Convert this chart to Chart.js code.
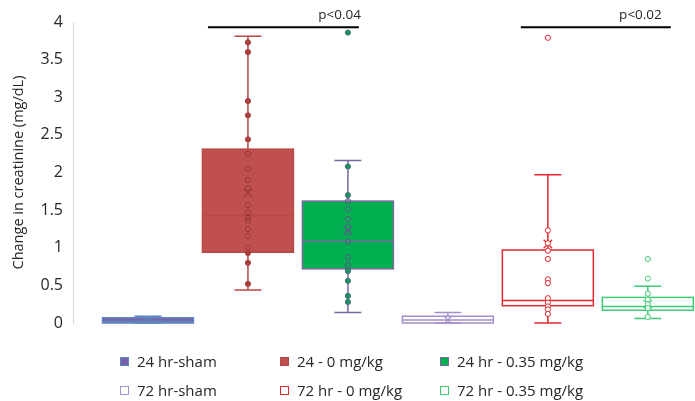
<!DOCTYPE html>
<html>
<head>
<meta charset="utf-8">
<script src="https://cdn.jsdelivr.net/npm/chart.js@4/dist/chart.umd.min.js"></script>
<style>
  body { margin: 0; background: #fff; }
  #wrap { position: relative; width: 695px; height: 401px; }
  #legend { position: absolute; left: 0; top: 0; width: 695px; height: 401px; pointer-events: none;
            font-family: "Open Sans", sans-serif; font-size: 15px; color: #262626; }
  .item { position: absolute; display: flex; align-items: center; white-space: nowrap; height: 20px; }
  .sw { width: 7px; height: 7px; margin-right: 8px; box-sizing: content-box; }
</style>
</head>
<body>
<div id="wrap">
  <canvas id="chart" width="695" height="401"></canvas>
  <div id="legend"></div>
</div>
<script>
// Grupos (categorías)
const groups = ['24 hr-sham', '24 - 0 mg/kg', '24 hr - 0.35 mg/kg', '72 hr-sham', '72 hr - 0 mg/kg', '72 hr - 0.35 mg/kg'];

// Cajas: bigotes, cuartiles, mediana y media
const whiskerLow  = [0.00, 0.44, 0.14, 0.00, 0.00, 0.06];
const q1          = [0.00, 0.94, 0.72, 0.00, 0.23, 0.17];
const median      = [0.02, 1.43, 1.09, 0.04, 0.30, 0.22];
const q3          = [0.07, 2.31, 1.62, 0.09, 0.97, 0.34];
const whiskerHigh = [0.09, 3.81, 2.16, 0.14, 1.97, 0.49];
const means       = [0.03, 1.73, 1.23, 0.04, 1.05, 0.25];

// Puntos individuales de cada grupo
const points24Sham = [];
const points24Zero = [3.73, 3.60, 2.95, 2.76, 2.44, 2.25, 2.05, 1.90, 1.79, 1.57, 1.47, 1.40, 1.36, 1.25, 1.15, 1.00, 0.93, 0.80, 0.52];
const points24Dose = [3.86, 2.08, 1.70, 1.62, 1.51, 1.38, 1.28, 1.20, 1.08, 0.87, 0.77, 0.71, 0.69, 0.56, 0.36, 0.28];
const points72Sham = [];
const points72Zero = [3.79, 1.23, 1.06, 0.96, 0.85, 0.58, 0.53, 0.33, 0.27, 0.22, 0.18, 0.12];
const points72Dose = [0.85, 0.59, 0.39, 0.31, 0.25, 0.20, 0.08];
const allPoints = [points24Sham, points24Zero, points24Dose, points72Sham, points72Zero, points72Dose];

// Ticks del eje Y
const yTicks = [0, 0.5, 1, 1.5, 2, 2.5, 3, 3.5, 4];

// Líneas de significancia
const sigLabels = ['p<0.04', 'p<0.02'];
const sigFrom = [1.6, 4.73];
const sigTo = [3.11, 6.23];
const sigY = [3.93, 3.93];

// Estilos por grupo
const styles = [
  { fill: '#7563a9', stroke: '#5f86c2', point: '#5f86c2', hollowFill: false },
  { fill: '#c0504d', stroke: '#b64845', point: '#a9403d', hollow: '#983836', hollowFill: false },
  { fill: '#00b050', stroke: '#7c67a3', point: '#16955a', pointBorder: '#4d6f80', hollow: '#5d5a8a', hollowFill: false },
  { fill: null, stroke: '#a38fcd', point: '#a38fcd', hollowFill: true },
  { fill: null, stroke: '#e0282e', point: '#e0282e', hollowFill: true },
  { fill: null, stroke: '#3fca74', point: '#3fca74', hollowFill: true }
];

const boxHalf = 0.455;
const capHalf = 0.135;

// Datasets de puntos
const datasets = [];
allPoints.forEach((pts, i) => {
  const st = styles[i];
  datasets.push({
    type: 'scatter',
    data: pts.map(v => ({ x: i + 1, y: v })),
    pointRadius: 2.6,
    pointBorderWidth: 1,
    pointBorderColor: ctx => {
      const v = ctx.raw ? ctx.raw.y : 0;
      const inside = v >= q1[i] && v <= q3[i];
      if (st.hollowFill) return st.point;
      return inside ? st.hollow : (st.pointBorder || st.point);
    },
    pointBackgroundColor: ctx => {
      const v = ctx.raw ? ctx.raw.y : 0;
      const inside = v >= q1[i] && v <= q3[i];
      if (st.hollowFill) return '#ffffff';
      return inside ? 'rgba(0,0,0,0)' : st.point;
    }
  });
});
// Media (X)
datasets.push({
  type: 'scatter',
  data: means.map((v, i) => ({ x: i + 1, y: v })),
  pointStyle: 'crossRot',
  pointRadius: 6,
  pointBorderWidth: 1.2,
  pointBorderColor: means.map((v, i) => i === 1 ? '#983836' : (i === 2 ? '#5d5a8a' : styles[i].stroke))
});

// Plugin para dibujar cajas y bigotes
const boxPlugin = {
  id: 'boxes',
  beforeDatasetsDraw(chart) {
    const { ctx, scales: { x, y } } = chart;
    ctx.save();
    groups.forEach((g, i) => {
      const st = styles[i];
      const cx = x.getPixelForValue(i + 1);
      const left = x.getPixelForValue(i + 1 - boxHalf);
      const right = x.getPixelForValue(i + 1 + boxHalf);
      const capL = x.getPixelForValue(i + 1 - capHalf);
      const capR = x.getPixelForValue(i + 1 + capHalf);
      const yq1 = y.getPixelForValue(q1[i]);
      const yq3 = y.getPixelForValue(q3[i]);
      const yMed = y.getPixelForValue(median[i]);
      const yLo = y.getPixelForValue(whiskerLow[i]);
      const yHi = y.getPixelForValue(whiskerHigh[i]);
      ctx.strokeStyle = st.stroke;
      ctx.lineWidth = 1.5;
      // bigotes
      ctx.beginPath();
      ctx.moveTo(cx, yHi); ctx.lineTo(cx, yq3);
      ctx.moveTo(cx, yq1); ctx.lineTo(cx, yLo);
      ctx.moveTo(capL, yHi); ctx.lineTo(capR, yHi);
      ctx.moveTo(capL, yLo); ctx.lineTo(capR, yLo);
      ctx.stroke();
      // caja
      if (st.fill) {
        ctx.fillStyle = st.fill;
        ctx.fillRect(left, yq3, right - left, yq1 - yq3);
      }
      ctx.strokeRect(left, yq3, right - left, yq1 - yq3);
      // mediana
      ctx.beginPath();
      ctx.moveTo(left, yMed); ctx.lineTo(right, yMed);
      ctx.stroke();
    });
    ctx.restore();
  },
  afterDatasetsDraw(chart) {
    const { ctx, scales: { x, y } } = chart;
    ctx.save();
    ctx.strokeStyle = '#000';
    ctx.lineWidth = 2;
    ctx.fillStyle = '#262626';
    ctx.font = '13.5px "Open Sans", sans-serif';
    ctx.textAlign = 'right';
    ctx.textBaseline = 'middle';
    sigLabels.forEach((lab, i) => {
      const x0 = x.getPixelForValue(sigFrom[i]);
      const x1 = x.getPixelForValue(sigTo[i]);
      const yy = y.getPixelForValue(sigY[i]);
      ctx.beginPath();
      ctx.moveTo(x0, yy); ctx.lineTo(x1, yy);
      ctx.stroke();
      ctx.fillText(lab, x1 + (i === 0 ? 2 : -9), yy - 12);
    });
    ctx.restore();
  }
};

new Chart(document.getElementById('chart').getContext('2d'), {
  type: 'scatter',
  data: { datasets: datasets },
  options: {
    responsive: false,
    animation: false,
    layout: { padding: { top: 22, bottom: 78, left: 0, right: 0 } },
    plugins: { legend: { display: false }, tooltip: { enabled: false } },
    scales: {
      x: { type: 'linear', min: 0.25, max: 6.4, display: false },
      y: {
        min: 0,
        max: 4,
        afterBuildTicks: axis => { axis.ticks = yTicks.map(v => ({ value: v })); },
        afterFit: axis => { axis.width = 73; },
        grid: { display: false, drawTicks: false },
        border: { display: true, color: '#d9d9d9', width: 1 },
        ticks: {
          padding: 10,
          color: '#262626',
          font: { family: 'Open Sans', size: 16 },
          callback: v => String(v)
        },
        title: {
          display: true,
          text: 'Change in creatinine (mg/dL)',
          color: '#262626',
          font: { family: 'Open Sans', size: 14.5 },
          padding: { top: 10, bottom: 2 }
        }
      }
    }
  },
  plugins: [boxPlugin]
});

// Leyenda HTML (2 filas x 3 columnas)
const legendLeft = [120, 280, 440];
const legendTop = [351, 380];
const legend = document.getElementById('legend');
groups.forEach((g, i) => {
  const st = styles[i];
  const item = document.createElement('div');
  item.className = 'item';
  item.style.left = legendLeft[i % 3] + 'px';
  item.style.top = legendTop[Math.floor(i / 3)] + 'px';
  const sw = document.createElement('span');
  sw.className = 'sw';
  sw.style.background = st.fill || '#fff';
  sw.style.border = '1px solid ' + st.stroke;
  const txt = document.createElement('span');
  txt.textContent = g;
  item.appendChild(sw);
  item.appendChild(txt);
  legend.appendChild(item);
});
</script>
</body>
</html>
